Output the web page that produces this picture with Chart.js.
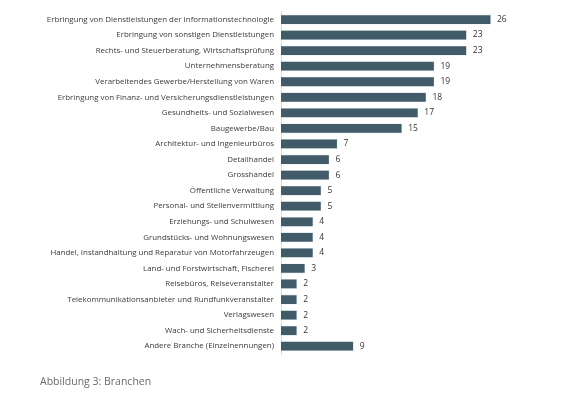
<!DOCTYPE html>
<html>
<head>
<meta charset="utf-8">
<script src="https://cdn.jsdelivr.net/npm/chart.js@4"></script>
<style>
  html, body { margin: 0; padding: 0; background: #fff; }
  #wrap { position: relative; width: 580px; height: 397px; }
  #caption {
    position: absolute; left: 40px; top: 374px;
    font-family: "Open Sans", sans-serif; font-size: 10.5px; color: #6a6a6a;
  }
</style>
</head>
<body>
<div id="wrap">
  <canvas id="myChart"></canvas>
  <div id="caption">Abbildung 3: Branchen</div>
</div>
<script>
// Branchen, Anzahl Nennungen
const branchen = [
    'Erbringung von Dienstleistungen der Informationstechnologie',
    'Erbringung von sonstigen Dienstleistungen',
    'Rechts- und Steuerberatung, Wirtschaftsprüfung',
    'Unternehmensberatung',
    'Verarbeitendes Gewerbe/Herstellung von Waren',
    'Erbringung von Finanz- und Versicherungsdienstleistungen',
    'Gesundheits- und Sozialwesen',
    'Baugewerbe/Bau',
    'Architektur- und Ingenieurbüros',
    'Detailhandel',
    'Grosshandel',
    'Öffentliche Verwaltung',
    'Personal- und Stellenvermittlung',
    'Erziehungs- und Schulwesen',
    'Grundstücks- und Wohnungswesen',
    'Handel, Instandhaltung und Reparatur von Motorfahrzeugen',
    'Land- und Forstwirtschaft, Fischerei',
    'Reisebüros, Reiseveranstalter',
    'Telekommunikationsanbieter und Rundfunkveranstalter',
    'Verlagswesen',
    'Wach- und Sicherheitsdienste',
    'Andere Branche (Einzelnennungen)'
];
const anzahl = [26, 23, 23, 19, 19, 18, 17, 15, 7, 6, 6, 5, 5, 4, 4, 4, 3, 2, 2, 2, 2, 9];

const valueLabels = {
    id: 'valueLabels',
    afterDatasetsDraw(chart) {
        const ctx = chart.ctx;
        const meta = chart.getDatasetMeta(0);
        ctx.save();
        ctx.font = '8.5px "Open Sans", sans-serif';
        ctx.fillStyle = '#333';
        ctx.textBaseline = 'middle';
        meta.data.forEach((bar, i) => {
            ctx.fillText(anzahl[i], bar.x + 6, bar.y);
        });
        ctx.restore();
    }
};

const renderChart = () => {
    const ctx = document.getElementById('myChart').getContext('2d');
    new Chart(ctx, {
        type: 'bar',
        data: {
            labels: branchen,
            datasets: [{
                data: anzahl,
                backgroundColor: '#415b69',
                borderColor: '#d5dde1',
                borderWidth: 0.6,
                barPercentage: 0.64,
                categoryPercentage: 1
            }]
        },
        plugins: [valueLabels],
        options: {
            indexAxis: 'y',
            responsive: false,
            animation: false,
            layout: { padding: { top: 9, right: 89, bottom: 43, left: 0 } },
            plugins: { legend: { display: false }, tooltip: { enabled: false } },
            scales: {
                x: { display: false, min: 0, max: 26 },
                y: {
                    afterFit(scale) { scale.width = 281; },
                    grid: { display: false, drawTicks: false },
                    border: { display: true, color: '#dcdcdc', width: 1 },
                    ticks: {
                        padding: 7,
                        color: '#3a3a3a',
                        font: { family: '"Open Sans", sans-serif', size: 7.9 },
                        autoSkip: false
                    }
                }
            }
        }
    });
};

const c = document.getElementById('myChart');
c.width = 580; c.height = 397;
document.addEventListener('DOMContentLoaded', renderChart);
</script>
</body>
</html>
